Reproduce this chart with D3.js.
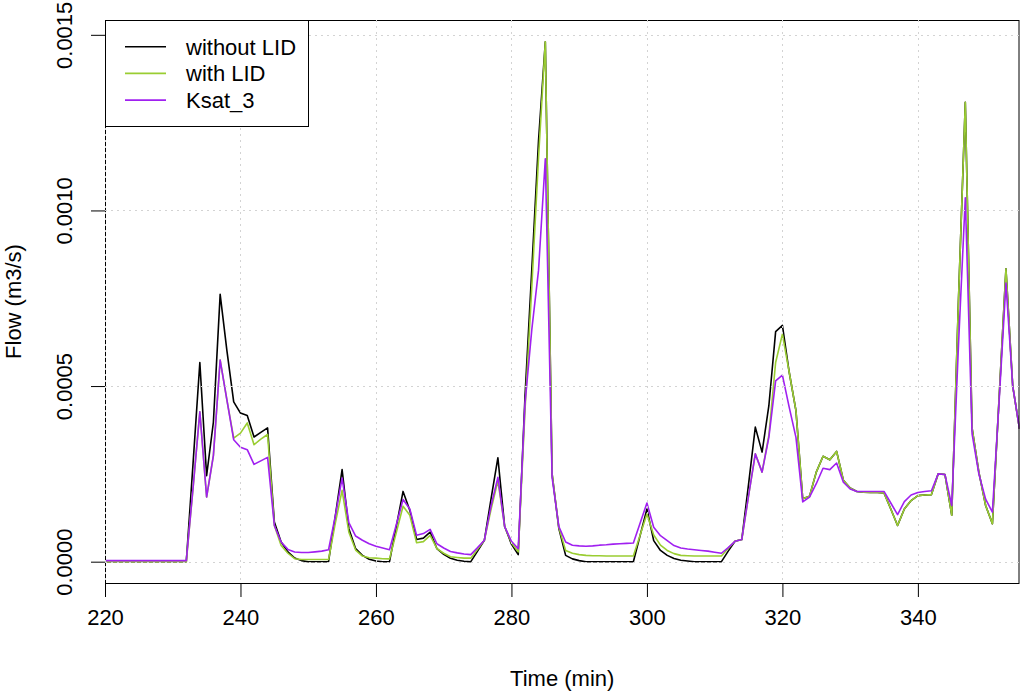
<!DOCTYPE html>
<html>
<head>
<meta charset="utf-8">
<script src="https://cdn.jsdelivr.net/npm/d3@7"></script>
<style>
    body { margin: 0; background: #fff; }
    svg { display: block; font-family: "Liberation Sans", Arial, sans-serif; }
    .grid-lines { stroke: #d3d3d3; stroke-width: 1; stroke-dasharray: 2,4; }
    .flow-line { fill: none; stroke-width: 1.6; stroke-linejoin: round; }
    .axis text { font-size: 22px; fill: #000; }
    .axis line { stroke: #000; }
    .title-text { font-size: 22px; fill: #000; }
</style>
</head>
<body>
<svg id="svg"></svg>
<script>
// minutes
const time = [
    220, 221, 222, 223, 224, 225, 226, 227, 228, 229,
    230, 231, 232, 233, 234, 235, 236, 237, 238, 239,
    240, 241, 242, 243, 244, 245, 246, 247, 248, 249,
    250, 251, 252, 253, 254, 255, 256, 257, 258, 259,
    260, 261, 262, 263, 264, 265, 266, 267, 268, 269,
    270, 271, 272, 273, 274, 275, 276, 277, 278, 279,
    280, 281, 282, 283, 284, 285, 286, 287, 288, 289,
    290, 291, 292, 293, 294, 295, 296, 297, 298, 299,
    300, 301, 302, 303, 304, 305, 306, 307, 308, 309,
    310, 311, 312, 313, 314, 315, 316, 317, 318, 319,
    320, 321, 322, 323, 324, 325, 326, 327, 328, 329,
    330, 331, 332, 333, 334, 335, 336, 337, 338, 339,
    340, 341, 342, 343, 344, 345, 346, 347, 348, 349,
    350, 351, 352, 353, 354, 355
];

// flow, m3/s
const withoutLID = [
    0, 0, 0, 0, 0, 0, 0, 0, 0, 0,
    0, 0, 0, 0.00028, 0.000567, 0.000245, 0.000397, 0.000761, 0.0006, 0.000455,
    0.000423, 0.000416, 0.000355, 0.000368, 0.000381, 0.000113, 0.000056, 0.000028, 0.0000105, 0.000003,
    0, 0, 0, 0, 0.00013, 0.000262, 0.000094, 0.000037, 0.000018, 0.000007,
    0.000002, 0, 0, 0.0001, 0.0002, 0.000146, 0.000063, 0.000067, 0.000084, 0.000037,
    0.000021, 0.0000095, 0.000004, 0.000001, 0, 0.00003, 0.000061, 0.00018, 0.000296, 0.0001,
    0.00005, 0.00002, 0.00047, 0.00083, 0.0012, 0.00148, 0.00025, 0.000094, 0.000018, 0.000008,
    0.000003, 0, 0, 0, 0, 0, 0, 0, 0, 0.000075,
    0.00015, 0.00006, 0.000032, 0.000018, 0.000009, 0.000004, 0.000002, 0, 0, 0,
    0, 0, 0.00003, 0.000058, 0.000063, 0.00022, 0.000383, 0.000312, 0.000444, 0.000655,
    0.000673, 0.00054, 0.00043, 0.000179, 0.000186, 0.000255, 0.0003, 0.00029, 0.000314, 0.000232,
    0.00021, 0.0002, 0.000198, 0.000197, 0.000197, 0.000196, 0.00015, 0.000103, 0.00015, 0.000174,
    0.000188, 0.00019, 0.000191, 0.00025, 0.000248, 0.000132, 0.00075, 0.001308, 0.00038, 0.000255,
    0.00016, 0.000108, 0.00047, 0.000834, 0.0005, 0.000378
];

const withLID = [
    0, 0, 0, 0, 0, 0, 0, 0, 0, 0,
    0, 0, 0, 0.00021, 0.000427, 0.000184, 0.000302, 0.000574, 0.00046, 0.000352,
    0.000366, 0.000395, 0.000333, 0.000349, 0.000362, 0.000103, 0.000046, 0.000024, 0.0000085, 0.000006,
    0.000006, 0.000006, 0.000006, 0.000006, 0.00011, 0.000203, 0.000084, 0.000033, 0.000016, 0.000011,
    0.00001, 0.0000085, 0.000008, 0.000083, 0.000158, 0.000132, 0.000054, 0.000057, 0.000075, 0.000037,
    0.000024, 0.000014, 0.000012, 0.00001, 0.00001, 0.000035, 0.000061, 0.00015, 0.00023, 0.0001,
    0.000054, 0.000028, 0.00043, 0.00078, 0.00115, 0.00148, 0.00025, 0.000097, 0.000032, 0.000024,
    0.00002, 0.000018, 0.000017, 0.000017, 0.000016, 0.000016, 0.000016, 0.000016, 0.000016, 0.000076,
    0.000136, 0.000076, 0.000047, 0.000032, 0.000023, 0.000018, 0.000017, 0.000016, 0.000016, 0.000016,
    0.000016, 0.000016, 0.000038, 0.000058, 0.000063, 0.000187, 0.000307, 0.000255, 0.00036, 0.000567,
    0.000648, 0.00054, 0.00043, 0.000179, 0.000186, 0.000255, 0.0003, 0.00029, 0.000314, 0.000232,
    0.00021, 0.0002, 0.000198, 0.000197, 0.000197, 0.000196, 0.00015, 0.000103, 0.00015, 0.000174,
    0.000188, 0.00019, 0.000191, 0.00025, 0.000248, 0.000132, 0.00075, 0.001308, 0.00038, 0.000255,
    0.00016, 0.000108, 0.00047, 0.000834, 0.0005, 0.000378
];

const ksat3 = [
    0.000003, 0.000003, 0.000003, 0.000003, 0.000003, 0.000003, 0.000003, 0.000003, 0.000003, 0.000003,
    0.000003, 0.000003, 0.000003, 0.00021, 0.000427, 0.000184, 0.000302, 0.000574, 0.00046, 0.000347,
    0.000326, 0.000319, 0.000277, 0.000287, 0.000297, 0.000103, 0.000056, 0.000035, 0.0000275, 0.000026,
    0.000026, 0.000028, 0.00003, 0.000034, 0.00013, 0.000238, 0.000111, 0.000073, 0.000061, 0.000051,
    0.000044, 0.000039, 0.000034, 0.000105, 0.000177, 0.00015, 0.000075, 0.00008, 0.000092, 0.000051,
    0.000039, 0.000029, 0.000025, 0.000022, 0.00002, 0.00004, 0.000061, 0.00016, 0.00024, 0.0001,
    0.000058, 0.000037, 0.00045, 0.00066, 0.00083, 0.001147, 0.00024, 0.0001, 0.000056, 0.000047,
    0.000045, 0.000044, 0.000045, 0.000047, 0.000048, 0.00005, 0.000051, 0.000052, 0.000053, 0.00011,
    0.000167, 0.000098, 0.000074, 0.00006, 0.000046, 0.000039, 0.000036, 0.000034, 0.000032, 0.00003,
    0.000027, 0.000024, 0.00004, 0.000058, 0.000063, 0.000187, 0.000307, 0.000255, 0.000354, 0.000515,
    0.000531, 0.00044, 0.000354, 0.00017, 0.000184, 0.000222, 0.000266, 0.000262, 0.000281, 0.000226,
    0.000207, 0.0002, 0.0002, 0.0002, 0.0002, 0.0002, 0.000167, 0.000134, 0.000171, 0.00019,
    0.000197, 0.0002, 0.000202, 0.00025, 0.000248, 0.00016, 0.00062, 0.001036, 0.000364, 0.00025,
    0.000178, 0.000141, 0.00046, 0.000793, 0.0005, 0.000378
];

const seriesNames = ['without LID', 'with LID', 'Ksat_3'];
const seriesColors = ['#000000', '#9acd32', '#a020f0'];
const xTicks = [220, 240, 260, 280, 300, 320, 340];
const yTicks = [0, 0.0005, 0.0010, 0.0015];
const yTickLabels = ['0.0000', '0.0005', '0.0010', '0.0015'];

const width = 1021, height = 692;
const margin = {top: 20, left: 105, right: 1.5, bottom: 109};
const innerW = width - margin.left - margin.right;
const innerH = height - margin.top - margin.bottom;

const svg = d3.select('#svg')
    .attr('width', width)
    .attr('height', height);

const mainGroup = svg.append('g')
    .attr('transform', 'translate(' + margin.left + ',' + margin.top + ')');

const xScale = d3.scaleLinear()
    .domain([220, 355])
    .range([0, innerW]);

// R style 4% padding on the y range
const yMax = d3.max(withoutLID.concat(withLID, ksat3));
const yPad = yMax * 0.04;
const yScale = d3.scaleLinear()
    .domain([-yPad - 0.0000015, yMax + yPad + 0.000003])
    .range([innerH, 0]);

mainGroup.append('clipPath')
    .attr('id', 'plot-clip')
    .append('rect')
    .attr('width', innerW)
    .attr('height', innerH);

// lines
const series = [withoutLID, withLID, ksat3];
const line = d3.line()
    .x((d, i) => xScale(time[i]))
    .y(d => yScale(d));

mainGroup.append('g')
    .attr('clip-path', 'url(#plot-clip)')
    .selectAll('path')
    .data(series)
    .enter()
    .append('path')
    .attr('class', 'flow-line')
    .attr('stroke', (d, i) => seriesColors[i])
    .attr('d', line);

// box
mainGroup.append('rect')
    .attr('x', 0.5)
    .attr('y', 0.5)
    .attr('width', innerW - 1)
    .attr('height', innerH)
    .attr('fill', 'none')
    .attr('stroke', '#000')
    .attr('stroke-width', 1);

// axes
const xAxis = d3.axisBottom(xScale)
    .tickValues(xTicks)
    .tickSize(14)
    .tickSizeOuter(0)
    .tickPadding(12)
    .tickFormat(d3.format('d'));

const domXAxis = mainGroup.append('g')
    .attr('class', 'axis axis-x')
    .attr('transform', 'translate(0,' + innerH + ')')
    .call(xAxis);
domXAxis.select('.domain').remove();

const yAxis = d3.axisLeft(yScale)
    .tickValues(yTicks)
    .tickSize(14)
    .tickSizeOuter(0)
    .tickFormat((d, i) => yTickLabels[i]);

const domYAxis = mainGroup.append('g')
    .attr('class', 'axis axis-y')
    .call(yAxis);
domYAxis.select('.domain').remove();
domYAxis.selectAll('text')
    .attr('transform', 'rotate(-90)')
    .attr('x', 0)
    .attr('y', -33)
    .attr('dy', 0)
    .attr('text-anchor', 'middle');

// grid drawn over the lines like R's grid()
const grid = mainGroup.append('g');
grid.selectAll('.gx')
    .data(xTicks)
    .enter()
    .append('line')
    .attr('class', 'grid-lines')
    .attr('x1', d => Math.round(xScale(d)) + 0.5)
    .attr('x2', d => Math.round(xScale(d)) + 0.5)
    .attr('y1', 0)
    .attr('y2', innerH);
grid.selectAll('.gy')
    .data(yTicks)
    .enter()
    .append('line')
    .attr('class', 'grid-lines')
    .attr('x1', 0)
    .attr('x2', innerW)
    .attr('y1', d => Math.round(yScale(d)) + 0.5)
    .attr('y2', d => Math.round(yScale(d)) + 0.5);

// axis titles
svg.append('text')
    .attr('class', 'title-text')
    .attr('x', margin.left + innerW / 2)
    .attr('y', 686)
    .attr('text-anchor', 'middle')
    .text('Time (min)');

svg.append('text')
    .attr('class', 'title-text')
    .attr('transform', 'translate(21,' + (margin.top + innerH / 2) + ') rotate(-90)')
    .attr('text-anchor', 'middle')
    .text('Flow (m3/s)');

// legend
const legend = mainGroup.append('g');
legend.append('rect')
    .attr('x', 0.5)
    .attr('y', 0.5)
    .attr('width', 203)
    .attr('height', 106)
    .attr('fill', '#fff')
    .attr('stroke', '#000');

const rows = legend.selectAll('.legend-row')
    .data(seriesNames)
    .enter()
    .append('g')
    .attr('transform', (d, i) => 'translate(0,' + (26.7 + i * 26.7) + ')');
rows.append('line')
    .attr('x1', 20)
    .attr('x2', 61)
    .attr('stroke', (d, i) => seriesColors[i])
    .attr('stroke-width', 1.6);
rows.append('text')
    .attr('class', 'title-text')
    .attr('x', 81)
    .attr('dy', '0.36em')
    .text(d => d);
</script>
</body>
</html>
